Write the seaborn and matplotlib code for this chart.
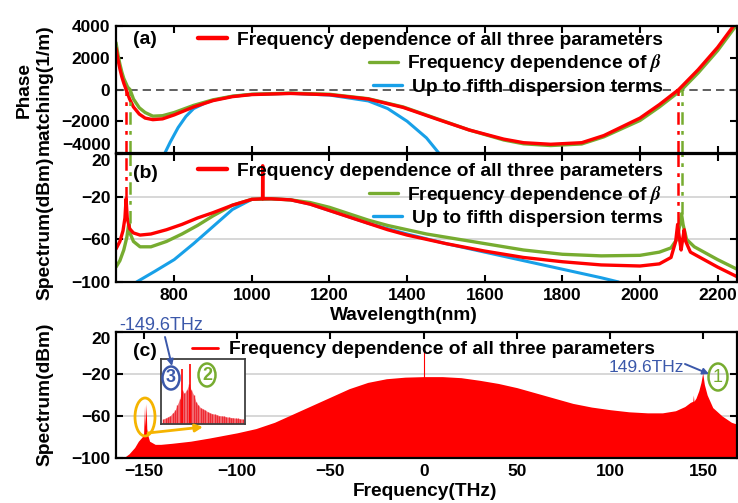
import numpy as np
import pandas as pd
import matplotlib
matplotlib.use("Agg")
import matplotlib.pyplot as plt
import seaborn as sns
from matplotlib.lines import Line2D
from matplotlib.patches import Ellipse, FancyArrowPatch

# ---------------- data ----------------
# (a) phase matching (1/m) vs wavelength (nm)
wl_red_a = [650, 655, 660, 665, 670, 676, 685, 695, 710, 725, 745, 770, 800, 850, 900, 950,
            1000, 1100, 1200, 1300, 1390, 1478, 1560, 1649, 1700, 1770, 1850, 1907, 2000,
            2050, 2100, 2150, 2200, 2250]
pm_red_a = [2600, 1900, 1300, 800, 400, 0, -600, -1100, -1550, -1800, -1900, -1850, -1600,
            -1100, -700, -450, -320, -250, -330, -600, -1130, -1875, -2550, -3125, -3350,
            -3450, -3350, -2900, -1800, -950, 0, 1250, 2650, 4300]
wl_green_a = [650, 655, 660, 665, 670, 680, 686, 695, 710, 725, 745, 770, 800, 850, 900, 950,
              1000, 1100, 1200, 1300, 1390, 1478, 1560, 1649, 1700, 1770, 1850, 1907, 2000,
              2050, 2108, 2150, 2200, 2250]
pm_green_a = [2950, 2200, 1600, 1100, 700, 150, 0, -600, -1150, -1450, -1680, -1650, -1450,
              -1000, -650, -420, -300, -230, -300, -580, -1100, -1850, -2550, -3180, -3420,
              -3530, -3430, -2980, -1950, -1100, 0, 1050, 2450, 4100]
wl_blue_a = [776, 790, 810, 830, 850, 880, 900, 950, 1000, 1100, 1200, 1300, 1350, 1400, 1450, 1485]
pm_blue_a = [-4000, -3300, -2400, -1700, -1200, -850, -680, -430, -310, -240, -350, -720,
             -1200, -2000, -3050, -4100]

# (b) spectrum (dBm) vs wavelength (nm)
wl_red_b = [650, 660, 668, 673, 676, 679, 685, 695, 712, 740, 780, 820, 860, 900, 950, 1000,
            1027.5, 1028, 1028.5, 1050, 1100, 1150, 1200, 1250, 1300, 1350, 1400, 1450, 1500,
            1600, 1700, 1800, 1900, 2000, 2050, 2080, 2092, 2097, 2102, 2106, 2110, 2114,
            2118, 2130, 2165, 2200, 2250]
sp_red_b = [-69, -62, -52, -40, -22, -40, -50, -54, -56, -55, -51, -46, -40, -35, -28, -22.5,
            -22, 9, -22, -22, -23, -27, -33, -39, -45, -51, -56, -60, -64, -71, -77, -81,
            -84, -85, -83, -77, -62, -46, -60, -70, -60, -51, -62, -72, -79, -86, -95]
wl_green_b = [650, 660, 670, 678, 683, 687, 695, 712, 740, 780, 820, 860, 900, 950, 1000,
              1050, 1100, 1150, 1200, 1250, 1300, 1350, 1400, 1450, 1500, 1600, 1700, 1800,
              1900, 2000, 2050, 2080, 2095, 2103, 2107, 2111, 2120, 2140, 2165, 2200, 2250]
sp_green_b = [-86, -80, -70, -58, -45, -55, -62, -67, -67, -62, -55, -47, -38, -28, -22.5,
              -22, -23, -25.5, -30, -36, -42, -47, -51, -55, -58, -64, -70, -74, -75.5, -75,
              -72, -68, -60, -46, -36, -46, -60, -67, -72, -79, -88]
wl_blue_b = [703, 750, 800, 850, 900, 950, 1000, 1050, 1100, 1150, 1200, 1250, 1300, 1400,
             1500, 1600, 1700, 1800, 1900, 1945]
sp_blue_b = [-100, -90, -79, -64, -48, -32, -22.5, -22, -23, -27, -33, -39, -45, -55, -64,
             -72, -80, -88, -96, -100]

# phase-matched wavelengths and their spectral peaks
pm_wl_red = [676, 2098]
pm_wl_green = [686, 2108]
pm_peak_red = [-22, -46]
pm_peak_green = [-45, -36]

# (c) spectrum (dBm) vs frequency (THz)
freq_c = [-165, -161, -158, -155, -153, -151, -150.2, -149.7, -149.4, -148.85, -148.5, -148,
          -147, -144, -141, -135, -125, -115, -100, -90, -80, -70, -60, -50, -40, -30, -20,
          -10, 0, 10, 20, 30, 40, 50, 60, 70, 80, 90, 100, 110, 120, 128, 135, 140, 143,
          144.3, 144.6, 144.9, 146, 147.5, 148.7, 149.6, 150.5, 152, 155, 160, 165, 170]
sp_c = [-100, -100, -96, -90, -84, -80, -77, -50, -70, -48, -72, -78, -84, -87, -87, -86,
        -84, -81, -76, -72, -66, -58, -50, -42, -34, -28, -24.5, -23, -22.5, -22.5, -23.5,
        -26, -29, -33, -38, -43, -48, -51.5, -54, -56, -57, -57, -55, -51, -47, -46, -40,
        -46, -43, -36, -28, -19, -30, -40, -52, -60, -66, -69]
pump_freq = [0]
pump_peak = [6]

# inset: comb lines around -149.6 THz
inset_freq = [-151.75, -151.5, -151.25, -151.0, -150.75, -150.5, -150.25, -150.0, -149.75,
              -149.5, -149.25, -149.0, -148.75, -148.5, -148.25, -148.0, -147.75, -147.5,
              -147.25, -147.0, -146.75, -146.5, -146.25, -146.0, -145.75, -145.5, -145.25,
              -145.0, -144.75, -144.5, -144.25, -144.0, -143.75, -143.5, -143.25]
inset_power = [-76.8, -76.4, -75.6, -74.8, -73.2, -71.6, -68, -64.8, -58.8, -61.2, -58.8,
               -55.6, -59.2, -62, -66.4, -68.4, -70, -70.8, -71.6, -72.4, -73.2, -73.6, -74,
               -74.4, -74.8, -75, -75.2, -75.6, -75.8, -76, -76.2, -76.4, -76.6, -76.8, -76.9]
inset_tall_freq = [-149.7, -148.85]
inset_tall_power = [-46.4, -43.2]

# ---------------- style ----------------
sns.set_theme(style="ticks")
plt.rcParams['font.family'] = ['Liberation Sans', 'DejaVu Sans']
plt.rcParams['font.weight'] = 'bold'
plt.rcParams['axes.labelweight'] = 'bold'
plt.rcParams['mathtext.fontset'] = 'stix'
for k in ('text.color', 'axes.labelcolor', 'xtick.color', 'ytick.color', 'axes.edgecolor'):
    plt.rcParams[k] = 'black'

RED = "#ff0000"
GREEN = "#77ac30"
BLUE = "#18a0e8"
TXTBLUE = "#3b58aa"
YELLOW = "#f5b400"
GRID = "#d4d4d4"

W, H = 738, 503
fig = plt.figure(figsize=(W / 100, H / 100), dpi=100)

def fx(x):
    return x / W

def fy(y):
    return 1 - y / H

L = fx(116)
AW = (737 - 116) / W
ax_a = fig.add_axes([L, fy(153), AW, 127 / H])
ax_b = fig.add_axes([L, fy(282), AW, 128 / H])
ax_c = fig.add_axes([L, fy(458), AW, 126 / H])

TICK_FS = 12.5
LAB_FS = 13.8
LEG_FS = 13.9
TAG_FS = 14

for ax in (ax_a, ax_b, ax_c):
    ax.tick_params(direction='in', length=5, width=1.5, top=True, right=True,
                   labelsize=TICK_FS, colors='black', pad=4)
    for s in ax.spines.values():
        s.set_linewidth(1.6)
        s.set_color('black')

# ---------------- panel (a) ----------------
ax_a.axhline(0, color='#444444', lw=1.2, ls=(0, (5, 3)), zorder=1)
sns.lineplot(x=wl_blue_a, y=pm_blue_a, ax=ax_a, color=BLUE, lw=2.2, sort=False, estimator=None)
sns.lineplot(x=wl_green_a, y=pm_green_a, ax=ax_a, color=GREEN, lw=2.4, sort=False, estimator=None)
sns.lineplot(x=wl_red_a, y=pm_red_a, ax=ax_a, color=RED, lw=2.4, sort=False, estimator=None)
dashdot = (0, (5, 2.5, 1.5, 2.5))
ax_a.vlines(pm_wl_red, -4000, 0, colors=RED, lw=1.8, linestyles=[dashdot])
ax_a.vlines(pm_wl_green, -4000, 0, colors=GREEN, lw=1.8, linestyles=[dashdot])
ax_a.set_xlim(650, 2250)
ax_a.set_ylim(-4000, 4000)
ax_a.set_yticks([-4000, -2000, 0, 2000, 4000])
ax_a.set_xticks([800, 1000, 1200, 1400, 1600, 1800, 2000, 2200])
ax_a.tick_params(labelbottom=False)
ax_a.set_xlabel('')
ax_a.set_ylabel('')

# ---------------- panel (b) ----------------
for g in (-20, -60):
    ax_b.axhline(g, color=GRID, lw=1.3, zorder=0)
sns.lineplot(x=wl_blue_b, y=sp_blue_b, ax=ax_b, color=BLUE, lw=2.2, sort=False, estimator=None)
sns.lineplot(x=wl_green_b, y=sp_green_b, ax=ax_b, color=GREEN, lw=2.4, sort=False, estimator=None)
sns.lineplot(x=wl_red_b, y=sp_red_b, ax=ax_b, color=RED, lw=2.4, sort=False, estimator=None)
ax_b.vlines(pm_wl_red, pm_peak_red, 20, colors=RED, lw=1.8, linestyles=[dashdot])
ax_b.vlines(pm_wl_green, pm_peak_green, 20, colors=GREEN, lw=1.8, linestyles=[dashdot])
ax_b.set_xlim(650, 2250)
ax_b.set_ylim(-100, 20)
ax_b.set_yticks([-100, -60, -20, 20])
ax_b.set_xticks([800, 1000, 1200, 1400, 1600, 1800, 2000, 2200])
ax_b.set_xlabel('')
ax_b.set_ylabel('')

# ---------------- panel (c) ----------------
for g in (-20, -60):
    ax_c.axhline(g, color=GRID, lw=1.3, zorder=0)
ax_c.fill_between(freq_c, sp_c, -100, color=RED, lw=0, zorder=2)
ax_c.vlines(pump_freq, -30, pump_peak, colors=RED, lw=0.8, zorder=2)
ax_c.set_xlim(-165, 168)
ax_c.set_ylim(-100, 20)
ax_c.set_yticks([-100, -60, -20, 20])
ax_c.set_xticks([-150, -100, -50, 0, 50, 100, 150])
ax_c.set_xlabel('')
ax_c.set_ylabel('')

for ax in (ax_a, ax_b, ax_c):
    for lab in ax.get_xticklabels() + ax.get_yticklabels():
        lab.set_fontweight('bold')
ax_a.get_yticklabels()[0].set_va('bottom')
ax_b.get_yticklabels()[-1].set_va('top')
ax_c.get_yticklabels()[-1].set_va('top')

# axis labels (figure level, precise placement)
fig.text(fx(34), fy(90), "Phase\nmatching(1/m)", rotation=90, ha='center', va='center',
         fontsize=LAB_FS, fontweight='bold', linespacing=1.2, multialignment='center')
fig.text(fx(45), fy(228), "Spectrum(dBm)", rotation=90, ha='center', va='center',
         fontsize=LAB_FS, fontweight='bold')
fig.text(fx(45), fy(394), "Spectrum(dBm)", rotation=90, ha='center', va='center',
         fontsize=LAB_FS, fontweight='bold')
fig.text(fx(404), fy(316), "Wavelength(nm)", ha='center', va='center',
         fontsize=LAB_FS, fontweight='bold')
fig.text(fx(425), fy(492), "Frequency(THz)", ha='center', va='center',
         fontsize=LAB_FS, fontweight='bold')

# ---------------- legends ----------------
labels3 = ["Frequency dependence of all three parameters",
           r"Frequency dependence of $\beta$",
           "Up to fifth dispersion terms"]

def right_align(leg):
    for col in leg._legend_handle_box.get_children():
        col.align = 'right'

for ax, ytop in ((ax_a, 0.96), (ax_b, 0.935)):
    hs = [Line2D([], [], color=RED, lw=3.2), Line2D([], [], color=GREEN, lw=2.4),
          Line2D([], [], color=BLUE, lw=2.4)]
    leg = ax.legend(hs, labels3, loc='upper left', bbox_to_anchor=((198 - 116) / 621, ytop),
                    frameon=False, prop={'size': LEG_FS, 'weight': 'bold'},
                    handlelength=1.5, handletextpad=0.5, labelspacing=0.2,
                    borderpad=0, borderaxespad=0)
    right_align(leg)

leg_c = ax_c.legend([Line2D([], [], color=RED, lw=2.0)], [labels3[0]], loc='upper left',
                    bbox_to_anchor=((192 - 116) / 621, 0.93), frameon=False,
                    prop={'size': LEG_FS, 'weight': 'bold'}, handlelength=1.35,
                    handletextpad=0.55, borderpad=0, borderaxespad=0)

# panel tags
ax_a.text(0.0467, (153 - 40) / 127, "(a)", transform=ax_a.transAxes, ha='center', va='center',
          fontsize=TAG_FS, fontweight='bold')
ax_b.text(0.0467, (282 - 173) / 128, "(b)", transform=ax_b.transAxes, ha='center', va='center',
          fontsize=TAG_FS, fontweight='bold')
ax_c.text(0.0467, (458 - 352) / 126, "(c)", transform=ax_c.transAxes, ha='center', va='center',
          fontsize=TAG_FS, fontweight='bold')

# ---------------- inset ----------------
ax_in = fig.add_axes([fx(161), fy(424), 84 / W, 65 / H])
ax_in.set_facecolor('white')
ax_in.fill_between(inset_freq, inset_power, -80, color="#f47a80", lw=0)
ax_in.vlines(inset_freq, -80, inset_power, colors="#ee2a33", lw=1.0)
ax_in.vlines(inset_tall_freq, -80, inset_tall_power, colors=RED, lw=1.2)
ax_in.set_xlim(-152, -143)
ax_in.set_ylim(-80, -40)
ax_in.set_xticks([])
ax_in.set_yticks([])
for s in ax_in.spines.values():
    s.set_linewidth(1.3)
    s.set_color('#404040')

# ---------------- annotations (figure level) ----------------
def fig_ellipse(cx, cy, w, h, color, lw=1.8):
    e = Ellipse((fx(cx), fy(cy)), w / W, h / H, transform=fig.transFigure,
                fill=False, edgecolor=color, lw=lw, zorder=5)
    fig.add_artist(e)

def fig_arrow(x0, y0, x1, y1, color, lw, ms):
    a = FancyArrowPatch((fx(x0), fy(y0)), (fx(x1), fy(y1)), transform=fig.transFigure,
                        arrowstyle='-|>', mutation_scale=ms, color=color, lw=lw, zorder=6,
                        shrinkA=0, shrinkB=0)
    fig.add_artist(a)

fig_ellipse(171, 378, 17, 23, TXTBLUE)
fig.text(fx(171), fy(378), "3", ha='center', va='center', color=TXTBLUE, fontsize=13,
         fontweight='bold')
fig_ellipse(207, 375, 17, 23, GREEN)
fig.text(fx(207), fy(375), "2", ha='center', va='center', color=GREEN, fontsize=13,
         fontweight='bold')
fig_ellipse(718, 377, 19, 27, GREEN)
fig.text(fx(718), fy(377), "1", ha='center', va='center', color=GREEN, fontsize=13,
         fontweight='normal')
fig_ellipse(145, 417, 20, 38, YELLOW, lw=2)
fig_arrow(148, 433, 203, 427, YELLOW, 2.0, 11)

fig.text(fx(161), fy(325), "-149.6THz", ha='center', va='center', color=TXTBLUE,
         fontsize=13, fontweight='normal')
fig_arrow(165, 337, 172, 366, TXTBLUE, 1.4, 9)
fig.text(fx(646), fy(367), "149.6THz", ha='center', va='center', color=TXTBLUE,
         fontsize=12.5, fontweight='normal')
fig_arrow(685, 364, 709, 374, TXTBLUE, 1.4, 9)

fig.savefig("out.png", dpi=100)
